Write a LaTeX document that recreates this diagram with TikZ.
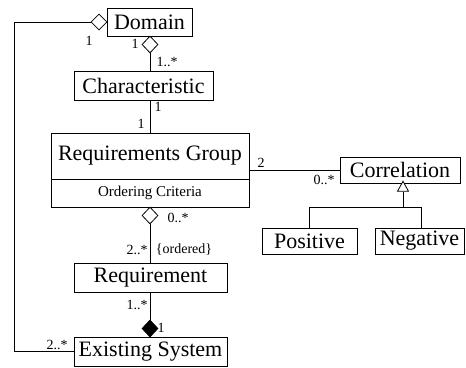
\documentclass[tikz,border=0pt]{standalone}
\usepackage{fontspec}
\setmainfont{Liberation Serif}
\usetikzlibrary{shapes.geometric}
\begin{document}
\begin{tikzpicture}[x=1pt,y=-1pt,line width=0.8pt,
  cls/.style={draw,inner sep=0pt,font=\fontsize{22}{26}\selectfont},
  small/.style={inner sep=0pt,font=\fontsize{14}{16}\selectfont},
  agg/.style={diamond,draw,fill=white,inner sep=0pt,minimum width=16pt,minimum height=17pt},
  comp/.style={agg,fill=black},
  gen/.style={isosceles triangle,shape border rotate=90,draw,fill=white,inner sep=0pt,minimum width=11pt,minimum height=10pt,isosceles triangle stretches}]
\useasboundingbox (0,0) rectangle (466,367);
% classes
\node[cls,minimum width=85pt,minimum height=28pt] (dom) at (149.5,22) {Domain};
\node[cls,minimum width=139pt,minimum height=29pt] (char) at (143.5,85.5) {Characteristic};
\node[cls,minimum width=198pt,minimum height=46pt] (rg) at (150,156) {Requirements Group};
\node[draw,inner sep=0pt,minimum width=198pt,minimum height=28pt,font=\fontsize{15}{17}\selectfont] (oc) at (150,193) {Ordering Criteria};
\node[cls,minimum width=153pt,minimum height=29pt] (req) at (150.5,277.5) {Requirement};
\node[cls,minimum width=153pt,minimum height=29pt] (es) at (150.5,351.5) {Existing System};
\node[cls,minimum width=120pt,minimum height=26pt] (cor) at (400,170) {Correlation};
\node[cls,minimum width=95pt,minimum height=26pt] (pos) at (309.5,241) {Positive};
\node[cls,minimum width=89pt,minimum height=26pt] (neg) at (419.5,241) {Negative};
% diamonds
\node[agg,minimum height=16pt] (dl) at (99,22) {};
\node[agg] (dd) at (150,44.5) {};
\node[agg] (dr) at (150,215.5) {};
\node[comp] (dc) at (150,328.5) {};
\node[gen] (tri) at (403,188) {};
% helper coordinates
\coordinate (lc1) at (14,22);
\coordinate (lc2) at (14,351.5);
\coordinate (br) at (403,207);
\coordinate (bl) at (309.5,207);
\coordinate (bn) at (421,207);
% connectors
\draw (dl.west) -- (lc1) -- (lc2) -- (es.west);
\draw (dd.south) -- (dd.south |- char.north);
\draw (dd.south |- char.south) -- (dd.south |- rg.north);
\draw (dr.south) -- (req.north -| dr.south);
\draw (req.south -| dc.north) -- (dc.north);
\draw (rg.east |- cor.west) -- (cor.west);
\draw (tri.south) -- (br);
\draw (bl) -- (bn);
\draw (bl) -- (pos.north -| bl);
\draw (bn) -- (neg.north -| bn);
% multiplicities
\node[small] (m1) at (89,41) {1};
\node[small] (m2) at (135,44) {1};
\node[small] (m3) at (167,62) {1..*};
\node[small] (m4) at (158,107) {1};
\node[small] (m5) at (141,124) {1};
\node[small] (m6) at (178,218) {0..*};
\node[small] (m7) at (137,250) {2..*};
\node[small] (m8) at (184,250) {\{ordered\}};
\node[small] (m9) at (137,305) {1..*};
\node[small] (m10) at (161,328) {1};
\node[small] (m11) at (57,345) {2..*};
\node[small] (m12) at (261,163) {2};
\node[small] (m13) at (324,180) {0..*};
\end{tikzpicture}
\end{document}
